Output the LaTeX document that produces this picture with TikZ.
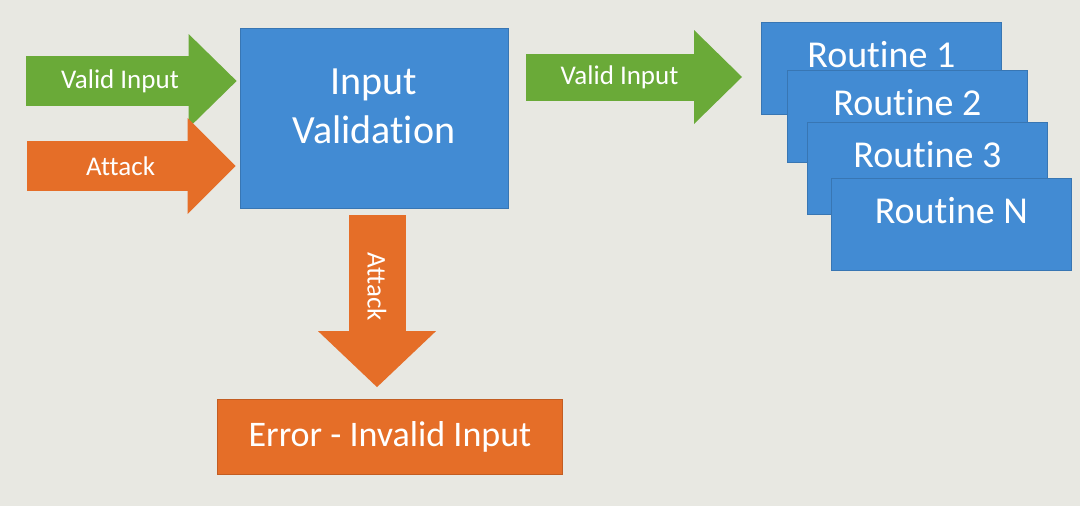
\documentclass[tikz,border=0pt]{standalone}
\usepackage{fontspec}
\setmainfont{Carlito}[Ligatures=NoCommon]
\usetikzlibrary{arrows.meta, positioning}
\definecolor{boxblue}{RGB}{66,139,211}
\definecolor{flowgreen}{RGB}{106,170,56}
\definecolor{floworange}{RGB}{229,110,40}
\definecolor{paper}{RGB}{232,232,226}

\begin{document}
\begin{tikzpicture}[
            x=1pt, y=-1pt,
            bluebox/.style={rectangle, draw=boxblue!85!black, line width=0.8pt, fill=boxblue, text=white, inner sep=0pt},
            orangebox/.style={rectangle, draw=floworange!85!black, line width=0.8pt, fill=floworange, text=white, inner sep=0pt},
            routinebox/.style={bluebox, anchor=north west, minimum width=240pt, text height=45pt, text depth=47pt, font=\fontsize{38}{46}\selectfont},
            greenflow/.style={draw=flowgreen, line width=50pt, -{Triangle[length=48pt, width=94pt, line width=0pt]}},
            orangeflow/.style={draw=floworange, line width=50pt, -{Triangle[length=48pt, width=96pt, line width=0pt]}},
            flowtext/.style={text=white, font=\fontsize{27}{32}\selectfont, inner sep=0pt},
            ]
            \fill[paper] (0,0) rectangle (1080,506);

            \node[bluebox, minimum width=268pt, minimum height=180pt] (val) at (374,118) {};
            \node[text=white, align=center, font=\fontsize{40}{49}\selectfont] (valtext) at (374,106) {Input\\Validation};

            \node[routinebox] (r1) at (761,22) {Routine 1};
            \node[routinebox] (r2) at ([xshift=26pt, yshift=-48pt]r1.north west) {Routine 2};
            \node[routinebox] (r3) at ([xshift=20pt, yshift=-52pt]r2.north west) {Routine 3};
            \node[routinebox] (rn) at ([xshift=24pt, yshift=-56pt]r3.north west) {Routine N};

            \node[orangebox, minimum width=345pt, minimum height=75pt, font=\fontsize{36}{43}\selectfont] (err) at (390,437) {Error - Invalid Input};

            \coordinate (vin) at (26,81);
            \coordinate (atk) at (27,166);
            \coordinate (vmid) at (0,77);

            \draw[greenflow, shorten >=3pt] (vin) -- (vin -| val.west)
                node[flowtext, pos=0.44] (vintext) {Valid Input};
            \draw[orangeflow, shorten >=4pt] (atk) -- (atk -| val.west)
                node[flowtext, pos=0.44] (atktext) {Attack};
            \draw[greenflow, line width=47pt, shorten <=18pt, shorten >=19pt] (val.east |- vmid) -- (r1.west |- vmid)
                node[flowtext, pos=0.44] (outtext) {Valid Input};
            \draw[orangeflow, line width=57pt, -{Triangle[length=56pt, width=118pt, line width=0pt]}, shorten <=7pt, shorten >=12pt]
                ([xshift=3pt]val.south) -- ([xshift=3pt]val.south |- err.north)
                node[flowtext, pos=0.41, rotate=-90] (dntext) {Attack};
        \end{tikzpicture}
\end{document}
